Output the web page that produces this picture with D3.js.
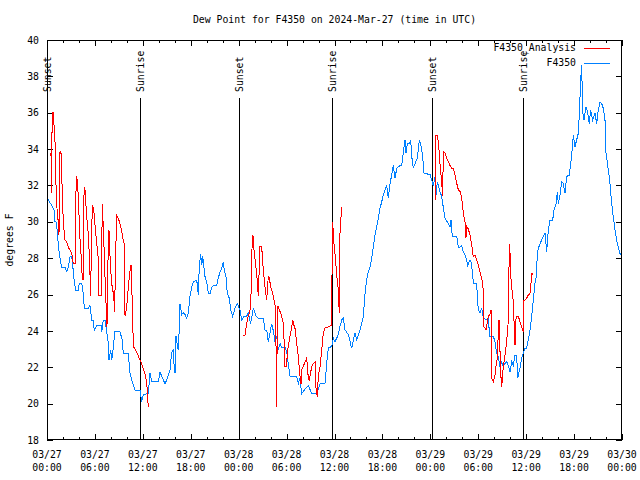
<!DOCTYPE html>
<html><head><meta charset="utf-8">
<script src="https://cdn.jsdelivr.net/npm/d3@7"></script>
<style>
html,body{margin:0;padding:0;background:#fff;}
svg text{font-family:"DejaVu Sans Mono","Liberation Mono",monospace;font-size:9.8px;fill:#000;}
</style></head>
<body><svg id="c" width="640" height="480"></svg>
<script>
// ---- data (hours after 2024-03-27 00:00 UTC, dew point °F) ----
const titleText = "Dew Point for F4350 on 2024-Mar-27 (time in UTC)";
const yLabel = "degrees F";
const seriesNames = ["F4350_Analysis", "F4350"];
const seriesColors = ["#ff0000", "#0080ff"];
const yTicks = [18,20,22,24,26,28,30,32,34,36,38,40];
const xMajorHours = [0,6,12,18,24,30,36,42,48,54,60,66,72];
const xMinorHours = [2,4,8,10,14,16,20,22,26,28,32,34,38,40,44,46,50,52,56,58,62,64,68,70];
const sunEvents = [[0,"Sunset"],[11.65,"Sunrise"],[24.08,"Sunset"],[35.72,"Sunrise"],[48.15,"Sunset"],[59.64,"Sunrise"]];

const obsSeries = [
[0.04,31.3],[0.16,31.2],[0.59,30.9],[0.88,30.65],[1.0,30.0],[1.13,30.0],[1.34,29.3],[1.41,28.7],[1.63,28.0],[1.84,27.5],
[2.25,27.5],[2.47,27.26],[2.67,27.5],[2.88,28.08],[3.09,28.1],[3.29,27.3],[3.42,26.7],[3.59,26.25],[3.92,26.25],[4.04,26.6],
[4.35,26.6],[4.55,26.05],[4.67,25.25],[5.17,25.25],[5.38,25.4],[5.6,24.6],[5.76,24.6],[5.92,24.05],[6.22,24.3],[6.85,24.3],
[6.86,23.95],[7.05,24.6],[7.26,24.6],[7.48,23.95],[7.68,23.3],[7.76,22.4],[7.98,22.95],[8.1,22.4],[8.23,22.8],[8.39,23.5],
[8.51,23.95],[9.14,23.95],[9.43,23.5],[9.55,22.77],[10.18,22.77],[10.39,21.67],[10.61,21.3],[11.02,20.75],[11.65,20.75],[11.86,20.1],
[12.06,20.5],[12.68,20.55],[12.9,21.7],[13.11,21.2],[13.31,21.2],[13.94,21.2],[14.15,21.75],[14.36,21.5],[14.78,21.1],[14.99,21.3],
[15.4,21.85],[15.61,22.8],[15.81,22.95],[15.9,22.2],[16.03,21.7],[16.15,23.7],[16.32,23.2],[16.44,22.95],[16.57,24.25],[16.65,25.5],
[16.87,24.9],[17.07,25.0],[17.28,24.9],[17.49,24.7],[17.69,25.0],[17.82,25.5],[17.91,25.95],[18.12,26.4],[18.32,26.7],[18.75,26.8],
[18.95,25.97],[19.07,27.6],[19.25,28.2],[19.37,27.6],[19.5,28.1],[19.78,27.0],[20.0,26.7],[20.2,26.05],[20.41,26.05],[20.62,26.4],
[20.82,26.5],[21.25,26.5],[21.45,26.9],[21.66,27.25],[21.88,27.45],[22.08,27.8],[22.2,27.3],[22.41,27.0],[22.58,26.05],[22.83,25.8],
[23.0,25.15],[23.25,24.8],[23.54,25.25],[23.83,25.5],[24.17,25.15],[24.38,24.6],[24.67,24.8],[25.0,24.8],[25.2,25.0],[25.5,24.4],
[25.83,25.25],[26.17,24.8],[26.46,24.7],[27.08,24.7],[27.3,24.05],[27.51,24.05],[27.71,23.4],[28.14,24.4],[28.34,24.0],[28.55,23.4],
[28.76,23.7],[28.96,22.95],[29.18,23.3],[29.39,23.1],[29.8,23.1],[30.01,22.85],[30.43,21.5],[31.27,21.5],[31.47,21.1],[31.68,21.4],
[31.89,20.55],[32.31,20.8],[32.72,21.0],[33.15,20.55],[33.77,20.55],[33.97,20.8],[34.19,21.1],[34.81,21.1],[35.02,22.2],[35.22,23.05],
[35.65,23.15],[35.85,23.6],[36.06,23.4],[36.48,23.8],[36.69,24.25],[36.9,24.6],[37.1,24.7],[37.32,24.05],[37.73,23.8],[38.15,23.05],
[38.57,23.9],[38.78,23.5],[39.19,24.05],[39.61,24.8],[39.82,26.05],[40.03,26.8],[40.23,27.25],[40.45,27.5],[40.66,27.98],[40.86,28.6],
[41.07,29.27],[41.28,29.7],[41.49,30.2],[41.7,30.74],[41.91,31.1],[42.11,31.47],[42.32,31.75],[42.54,32.0],[42.74,31.3],[42.95,32.1],
[43.16,32.57],[43.36,33.1],[43.58,32.4],[43.79,32.94],[44.2,33.1],[44.42,33.1],[44.61,33.8],[44.83,34.5],[44.95,33.8],[45.12,34.3],
[45.37,34.3],[45.54,34.5],[45.67,33.6],[45.87,32.94],[46.08,33.2],[46.37,33.5],[46.49,33.95],[46.62,34.5],[46.79,34.3],[47.04,33.6],
[47.21,32.67],[47.96,32.6],[48.17,32.3],[48.37,32.0],[48.59,32.5],[48.71,31.47],[48.87,32.2],[49.21,31.65],[49.42,31.4],[49.62,30.8],
[49.84,30.2],[50.25,29.9],[50.46,29.7],[50.59,30.1],[50.75,29.2],[51.31,29.2],[51.51,28.6],[51.72,28.6],[51.93,28.7],[52.13,28.35],
[52.34,28.2],[52.55,27.9],[52.68,27.6],[52.97,27.9],[53.09,27.8],[53.31,27.1],[53.38,26.6],[53.81,26.6],[53.88,25.9],[54.01,25.15],
[54.22,24.97],[54.43,25.25],[54.64,24.7],[55.06,24.6],[55.22,24.7],[55.47,23.7],[55.89,23.7],[56.1,23.4],[56.31,22.77],[56.51,22.6],
[56.72,22.05],[56.94,22.3],[57.14,22.05],[57.35,22.2],[57.56,22.3],[57.77,22.1],[57.98,21.75],[58.19,22.3],[58.39,22.1],[58.6,22.67],
[58.81,22.67],[58.94,21.4],[59.1,21.75],[59.23,21.94],[59.44,22.5],[59.64,22.77],[59.85,23.05],[60.06,23.05],[60.26,23.5],[60.48,24.05],
[60.69,24.8],[60.89,25.7],[61.1,26.6],[61.23,26.9],[61.39,28.1],[61.52,28.55],[61.94,29.0],[62.36,29.37],[62.57,28.35],[62.77,29.55],
[62.99,30.1],[63.32,30.1],[63.49,30.65],[63.74,31.0],[63.9,31.65],[64.03,31.0],[64.24,31.47],[64.45,32.2],[64.65,32.1],[64.86,31.57],
[65.08,32.5],[65.4,32.57],[65.58,33.2],[65.83,34.3],[65.9,34.77],[66.11,34.13],[66.32,34.5],[66.53,34.87],[66.65,35.87],[66.83,37.8],
[66.95,38.6],[67.08,36.05],[67.24,35.6],[67.49,36.33],[67.7,36.0],[67.9,35.4],[68.08,36.15],[68.33,35.6],[68.62,35.97],[68.83,35.4],
[69.03,36.15],[69.25,36.6],[69.46,36.5],[69.66,36.24],[69.87,35.6],[70.0,33.77],[70.29,32.85],[70.5,32.1],[70.71,31.0],[70.91,30.27],
[71.13,29.55],[71.33,29.0],[71.54,28.6],[71.74,28.27],[71.87,28.2]
];

// analysis: null value marks a gap in the line
const anaSeries = [
[0.5,33.8],[0.53,31.6],[0.66,36.0],[0.79,36.0],[1.0,34.4],[1.13,32.0],[1.21,30.9],[1.34,30.4],[1.5,29.3],[1.63,33.86],
[1.75,33.8],[1.84,32.6],[2.04,30.0],[2.25,29.0],[2.47,28.9],[2.67,28.6],[3.09,28.3],[3.29,27.7],[3.51,27.7],[3.59,31.3],
[3.72,32.5],[3.84,32.0],[3.92,31.3],[4.13,29.1],[4.26,28.2],[4.42,26.9],[4.51,26.8],[4.55,31.1],[4.72,31.9],[4.82,31.5],
[4.92,30.55],[5.13,29.55],[5.34,27.9],[5.45,25.9],[5.67,30.9],[5.85,30.7],[6.07,29.5],[6.39,28.1],[6.51,25.97],[6.8,25.97],
[6.92,31.0],[7.07,29.5],[7.26,27.0],[7.39,25.5],[7.51,24.23],[7.68,29.0],[7.76,29.55],[7.95,27.5],[8.14,26.5],[8.33,26.0],
[8.48,25.06],[8.55,27.3],[8.72,30.37],[8.93,30.2],[9.14,29.9],[9.35,29.5],[9.55,29.0],[9.68,28.8],[9.77,24.8],[9.98,25.3],
[10.18,26.4],[10.39,27.3],[10.52,27.6],[10.68,25.5],[10.81,23.15],[11.15,22.9],[11.65,22.4],[11.86,22.2],[12.06,21.9],[12.28,21.6],
[12.49,21.2],[12.55,20.66],[12.68,19.83],[12.7,null],
[24.58,23.77],[24.79,23.77],[25.0,24.4],[25.2,24.8],[25.5,25.25],[25.63,27.45],[25.7,29.27],[25.83,29.2],[25.92,28.45],[26.17,27.45],
[26.33,26.8],[26.46,25.9],[26.58,27.5],[26.67,28.63],[26.88,28.63],[27.0,27.9],[27.08,27.35],[27.3,26.43],[27.51,25.7],[27.71,27.0],
[27.84,26.9],[28.01,26.43],[28.26,26.05],[28.42,25.7],[28.55,25.42],[28.68,23.15],[28.76,19.83],[28.84,25.33],[28.96,25.33],[29.18,25.06],
[29.39,24.8],[29.59,24.4],[29.72,23.15],[29.8,22.05],[30.01,22.05],[30.09,22.85],[30.22,23.15],[30.43,23.7],[30.64,24.23],[30.77,24.6],
[30.93,24.3],[31.05,24.15],[31.27,23.3],[31.47,22.6],[31.68,21.5],[31.81,21.1],[31.89,21.85],[32.09,22.05],[32.31,22.3],[32.52,22.5],
[32.72,21.4],[32.85,21.3],[33.15,22.05],[33.35,22.2],[33.56,22.3],[33.68,20.85],[33.84,20.38],[33.97,21.5],[34.19,22.05],[34.4,22.95],
[34.6,23.87],[34.81,24.15],[35.22,24.23],[35.65,24.32],[35.73,30.0],[35.85,29.55],[35.94,28.8],[36.06,28.27],[36.28,27.07],[36.48,26.25],
[36.6,24.97],[36.69,29.37],[36.9,30.83],[36.95,null],
[48.59,31.2],[48.67,34.77],[48.87,34.77],[49.0,34.4],[49.12,33.77],[49.21,33.2],[49.3,32.76],[49.42,32.2],[49.55,31.4],[49.62,33.86],
[49.84,33.77],[50.05,33.5],[50.25,33.3],[50.46,33.1],[50.68,32.94],[50.88,32.94],[51.09,32.57],[51.31,32.1],[51.51,31.75],[51.72,31.66],
[51.93,31.3],[52.13,30.47],[52.34,30.0],[52.46,29.1],[52.55,29.74],[52.76,29.6],[52.97,29.27],[53.18,28.72],[53.38,28.08],[53.59,28.17],
[53.81,27.9],[54.01,27.6],[54.22,27.25],[54.43,26.9],[54.64,26.25],[54.72,24.23],[54.97,24.05],[55.26,24.8],[55.47,24.9],[55.6,25.15],
[55.68,21.4],[55.89,21.22],[56.1,21.6],[56.22,22.05],[56.39,22.5],[56.51,23.87],[56.6,24.6],[56.72,22.95],[56.81,21.67],[56.94,20.93],
[57.14,22.05],[57.35,22.67],[57.56,23.4],[57.77,24.6],[57.89,28.8],[57.98,28.27],[58.07,27.0],[58.19,26.43],[58.39,25.6],[58.52,24.05],
[58.6,23.2],[58.69,24.6],[58.81,24.8],[59.02,24.8],[59.23,24.5],[59.44,24.23],[59.64,23.95],[59.73,25.7],[59.85,25.7],[60.06,25.8],
[60.26,25.97],[60.48,26.05],[60.6,26.6],[60.72,27.15],[60.85,27.1]
];

// ---- drawing ----
const W = 640, H = 480;
const L = 47, R = 622, T = 40, B = 440;
const t0 = Date.UTC(2024, 2, 27, 0, 0);
const hr = h => new Date(t0 + h * 3600000);

const svg = d3.select("#c");
const x = d3.scaleUtc().domain([hr(0), hr(72)]).range([L, R]);
const y = d3.scaleLinear().domain([18, 40]).range([B, T]);

svg.append("rect").attr("width", W).attr("height", H).attr("fill", "#fff");

// title
svg.append("text").attr("x", (L + R) / 2).attr("y", 23).attr("text-anchor", "middle").text(titleText);

// y label
svg.append("text").attr("transform", `translate(13,${(T + B) / 2}) rotate(-90)`)
  .attr("text-anchor", "middle").text(yLabel);

function styleAxis(g) {
  g.select(".domain").remove();
  g.selectAll("line").attr("stroke", "#000").attr("shape-rendering", "crispEdges");
  g.selectAll("text").attr("font-family", "DejaVu Sans Mono").attr("font-size", "9.8px");
}

// y axes
svg.append("g").attr("transform", `translate(${L},0)`)
  .call(d3.axisLeft(y).tickValues(yTicks).tickSize(-6).tickPadding(8).tickFormat(d3.format("d")))
  .call(styleAxis);
svg.append("g").attr("transform", `translate(${R},0)`)
  .call(d3.axisRight(y).tickValues(yTicks).tickSize(-6).tickFormat(""))
  .call(styleAxis);

// x axes (major + minor, bottom + top mirror)
const majorDates = xMajorHours.map(hr), minorDates = xMinorHours.map(hr);
svg.append("g").attr("transform", `translate(0,${B})`)
  .call(d3.axisBottom(x).tickValues(majorDates).tickSize(-6).tickFormat(""))
  .call(styleAxis);
svg.append("g").attr("transform", `translate(0,${B})`)
  .call(d3.axisBottom(x).tickValues(minorDates).tickSize(-3).tickFormat(""))
  .call(styleAxis);
svg.append("g").attr("transform", `translate(0,${T})`)
  .call(d3.axisTop(x).tickValues(majorDates).tickSize(-6).tickFormat(""))
  .call(styleAxis);
svg.append("g").attr("transform", `translate(0,${T})`)
  .call(d3.axisTop(x).tickValues(minorDates).tickSize(-3).tickFormat(""))
  .call(styleAxis);

const fmtD = d3.utcFormat("%m/%d"), fmtT = d3.utcFormat("%H:%M");
const xl = svg.append("g").selectAll("text").data(majorDates).join("text")
  .attr("text-anchor", "middle");
xl.append("tspan").attr("x", d => x(d)).attr("y", 458).text(d => fmtD(d));
xl.append("tspan").attr("x", d => x(d)).attr("y", 471).text(d => fmtT(d));

// sunrise / sunset markers
const sg = svg.append("g");
sg.selectAll("line").data(sunEvents).join("line")
  .attr("x1", d => Math.round(x(hr(d[0]))) + 0.5).attr("x2", d => Math.round(x(hr(d[0]))) + 0.5)
  .attr("y1", 98).attr("y2", B).attr("stroke", "#000").attr("stroke-width", 1);
sg.selectAll("text").data(sunEvents).join("text")
  .attr("transform", d => `translate(${Math.round(x(hr(d[0]))) + 0.5},92) rotate(-90)`)
  .attr("dy", "0.35em").attr("text-anchor", "start").text(d => d[1]);

// data lines
const line = d3.line()
  .defined(d => d[1] !== null)
  .x(d => x(hr(d[0]))).y(d => y(d[1]));

svg.append("path").datum(obsSeries).attr("d", line)
  .attr("fill", "none").attr("stroke", seriesColors[1]).attr("stroke-width", 1)
  .attr("shape-rendering", "crispEdges");
svg.append("path").datum(anaSeries).attr("d", line)
  .attr("fill", "none").attr("stroke", seriesColors[0]).attr("stroke-width", 1)
  .attr("shape-rendering", "crispEdges");

// frame
svg.append("rect").attr("x", L + 0.5).attr("y", T + 0.5).attr("width", R - L - 1).attr("height", B - T - 1)
  .attr("fill", "none").attr("stroke", "#000").attr("shape-rendering", "crispEdges");

// legend
const lg = svg.append("g").selectAll("g").data(seriesNames).join("g")
  .attr("transform", (d, i) => `translate(0,${48 + i * 15})`);
lg.append("text").attr("x", 576).attr("y", 0).attr("dy", "0.35em").attr("text-anchor", "end").text(d => d);
lg.append("line").attr("x1", 584).attr("x2", 610).attr("y1", 0.5).attr("y2", 0.5)
  .attr("stroke", (d, i) => seriesColors[i]).attr("stroke-width", 1);
</script>
</body></html>
